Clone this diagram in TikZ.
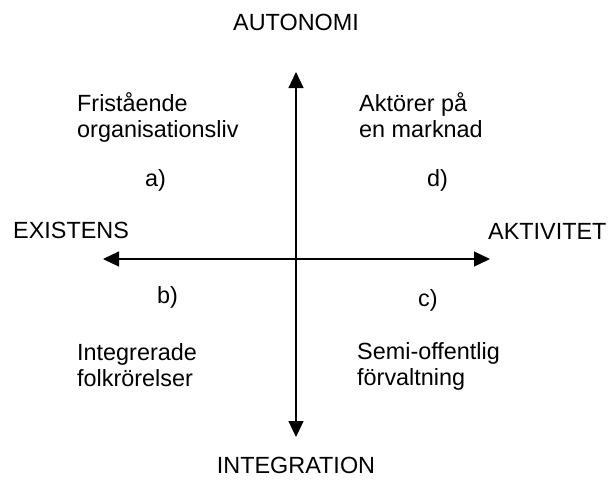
\documentclass[tikz,border=0pt]{standalone}
\usepackage{fontspec}
\setmainfont{Liberation Sans}
\usetikzlibrary{arrows.meta}

\begin{document}
\begin{tikzpicture}[x=1pt,y=-1pt,
  every node/.style={inner sep=0pt,font=\fontsize{23.4}{25.5}\selectfont},
  axis/.style={line width=1.2pt,{Triangle[length=16pt,width=15pt]}-{Triangle[length=16pt,width=15pt]}}]
  \useasboundingbox (0,0) rectangle (608,483);
  \coordinate (N) at (296,72);
  \coordinate (S) at (296,437);
  \coordinate (W) at (103,259);
  \coordinate (E) at (490,259);
  \draw[axis] (N) -- (S);
  \draw[axis] (W) -- (E);
  % axis labels
  \node (aut) [anchor=base] at (296,30) {AUTONOMI};
  \node (integ) [anchor=base] at (296,473) {INTEGRATION};
  \node (exist) [anchor=base west] at (13,238) {EXISTENS};
  \node (aktiv) [anchor=base west] at (488,239) {AKTIVITET};
  % quadrants (base = last line)
  \node (fri) [anchor=base west, align=left] at (77,137) {Fristående\\organisationsliv};
  \node (akt) [anchor=base west, align=left] at (359,137) {Aktörer på\\en marknad};
  \node (int) [anchor=base west, align=left] at (77,386) {Integrerade\\folkrörelser};
  \node (semi) [anchor=base west, align=left] at (357,385) {Semi-offentlig\\förvaltning};
  \node (qa) [anchor=base west] at (145,186) {a)};
  \node (qd) [anchor=base west] at (427,186) {d)};
  \node (qb) [anchor=base west] at (157,303) {b)};
  \node (qc) [anchor=base west] at (418,306) {c)};
\end{tikzpicture}
\end{document}
